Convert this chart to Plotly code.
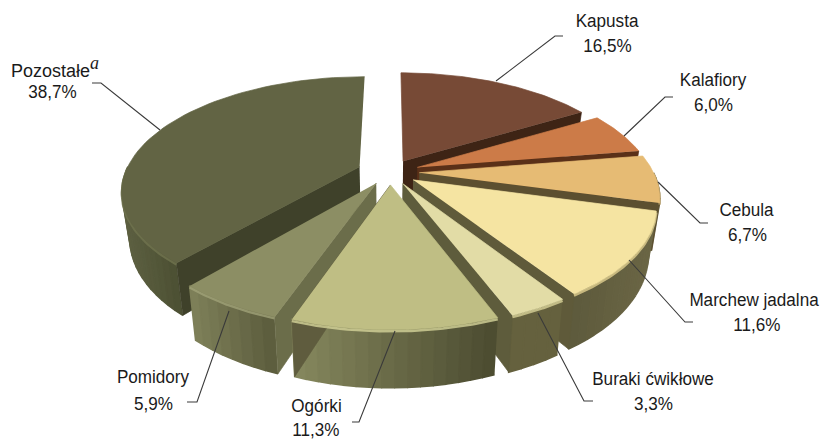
import math
import plotly.graph_objects as go

categories = ["Kapusta", "Kalafiory", "Cebula", "Marchew jadalna", "Buraki ćwikłowe", "Ogórki", "Pomidory", "Pozostałe"]
values = [16.5, 6.0, 6.7, 11.6, 3.3, 11.3, 5.9, 38.7]
explode = [0.115, 0.125, 0.125, 0.12, 0.115, 0.115, 0.115, 0.14]
top_colors = ["#774a36", "#cc7b48", "#e6bb74", "#f5e4a2", "#e2dca6", "#bfbe84", "#8c8e64", "#626444"]
cut_colors = ["#3e2415", "#5a3018", "#5c4f30", "#5f5a3a", "#5e5c3c", "#5f5c3e", "#6b6d4a", "#3f412a"]
wall_light = ["#5a3520", "#7a4a28", "#8a7a50", "#5d5a3c", "#65613e", "#86885e", "#7f815a", "#5e6142"]
wall_dark = ["#5a3520", "#7a4a28", "#6a6040", "#6b6645", "#65613e", "#4b4b30", "#5a5b3c", "#4c5033"]
rim_colors = ["#8a5a44", "#d88c5a", "#b9a06a", "#e0cf8f", "#d8d298", "#d5d49a", "#a0a278", "#71744f"]
name_pos = [(607, 21), (713, 80), (747, 210), (754, 300), (653, 379), (316, 406), (153, 377), (55, 67)]
value_pos = [(607, 46), (713, 105), (747, 235), (757, 325), (653, 404), (316, 430), (153, 404), (52, 92)]
leaders = [
    [(563, 36), (555, 36), (496, 81)],
    [(673, 97), (665, 97), (624, 136)],
    [(708, 223), (700, 223), (658, 182)],
    [(693, 322), (685, 322), (629, 260)],
    [(593, 401), (584, 401), (538, 313)],
    [(352, 422), (359, 422), (395, 331)],
    [(187, 402), (197, 402), (229, 311)],
    [(92, 83), (101, 83), (160, 130)],
]

CX, CY = 390, 172
RH, RV, K = 234, 110, 0.2
H, NARROW = 45, 0.03
FONT = "Liberation Sans, Arial, sans-serif"


def project(th, r, mid, d, bottom=False):
    X = r * math.sin(th) + d * math.sin(mid)
    Y = r * math.cos(th) + d * math.cos(mid)
    s = 1 / (1 + K * Y)
    x, y = X * RH * s, -Y * RV * s
    if bottom:
        return CX + x * (1 - NARROW), CY + y + H * s
    return CX + x, CY + y


def mix(a, b, t):
    ca = [int(a[i:i + 2], 16) for i in (1, 3, 5)]
    cb = [int(b[i:i + 2], 16) for i in (1, 3, 5)]
    return "rgb(%d,%d,%d)" % tuple(round(p + (q - p) * t) for p, q in zip(ca, cb))


fig = go.Figure()


def poly(pts, color, lw=0.7):
    fig.add_trace(go.Scatter(x=[p[0] for p in pts], y=[p[1] for p in pts], mode="lines", fill="toself",
                             fillcolor=color, line=dict(color=color, width=lw), hoverinfo="skip", showlegend=False))


starts, acc = [], 0.0
for v in values:
    starts.append(acc)
    acc += v
total = acc
slices = []
for i, v in enumerate(values):
    a = starts[i] / total * 2 * math.pi
    b = (starts[i] + v) / total * 2 * math.pi
    slices.append((i, a, b, (a + b) / 2))

for i, a, b, m in sorted(slices, key=lambda s: -math.cos(s[3])):
    d = explode[i]
    ray = b if m < math.pi else a
    lo, hi = max(a, math.pi / 2), min(b, 3 * math.pi / 2)
    if hi > lo:
        n = max(2, int((hi - lo) / math.radians(2.5)))
        ths = [lo + (hi - lo) * j / n for j in range(n + 1)]
        xs = [project(t, 1, m, d)[0] for t in ths]
        xmin, xmax = min(xs), max(xs)
        order = sorted(range(n), key=lambda j: xs[j])
        for j in order:
            t0, t1 = ths[j], ths[j + 1]
            f = ((xs[j] + xs[j + 1]) / 2 - xmin) / max(xmax - xmin, 1)
            poly([project(t0, 1, m, d), project(t1, 1, m, d), project(t1, 1, m, d, True), project(t0, 1, m, d, True)],
                 mix(wall_light[i], wall_dark[i], f), 1.6)
    poly([project(0, 0, m, d), project(ray, 1, m, d), project(ray, 1, m, d, True), project(0, 0, m, d, True)], cut_colors[i])
    arc = [a + (b - a) * j / 60 for j in range(61)]
    if hi > lo:
        rim = [lo + (hi - lo) * j / 40 for j in range(41)]
        pts = [project(t, 1, m, d) for t in rim]
        fig.add_trace(go.Scatter(x=[p[0] for p in pts], y=[p[1] + 1.5 for p in pts], mode="lines",
                                 line=dict(color=rim_colors[i], width=2.5), opacity=0.8,
                                 hoverinfo="skip", showlegend=False))
    poly([project(0, 0, m, d)] + [project(t, 1, m, d) for t in arc], top_colors[i])

for pts in leaders:
    fig.add_trace(go.Scatter(x=[p[0] for p in pts], y=[p[1] for p in pts], mode="lines",
                             line=dict(color="#3a3a3a", width=1.1), hoverinfo="skip", showlegend=False))

for i, (cat, v) in enumerate(zip(categories, values)):
    name = cat
    if cat == "Pozostałe":
        name = cat + '<sup><span style="font-family:Liberation Serif;font-size:18px"><i>a</i></span></sup>'
    fig.add_annotation(x=name_pos[i][0], y=name_pos[i][1], text=name, showarrow=False,
                       xanchor="center", yanchor="middle", font=dict(family=FONT, size=18, color="#1a1a1a"))
    fig.add_annotation(x=value_pos[i][0], y=value_pos[i][1], text=f"{v:.1f}".replace(".", ",") + "%", showarrow=False,
                       xanchor="center", yanchor="middle", font=dict(family=FONT, size=18, color="#1a1a1a"))

fig.update_xaxes(range=[0, 826], visible=False, fixedrange=True)
fig.update_yaxes(range=[440, 0], visible=False, fixedrange=True)
fig.update_layout(width=826, height=440, margin=dict(l=0, r=0, t=0, b=0), paper_bgcolor="white",
                  plot_bgcolor="white", showlegend=False)
post = """
document.body.style.margin='0';
document.querySelectorAll('.annotation-text').forEach(function(t){
  if (t.querySelector('tspan')) return;
  var len = t.getComputedTextLength();
  t.setAttribute('textLength', (len*0.95).toFixed(1));
  t.setAttribute('lengthAdjust', 'spacingAndGlyphs');
});
"""
fig.write_html("out.html", post_script=post, config={"displayModeBar": False})
